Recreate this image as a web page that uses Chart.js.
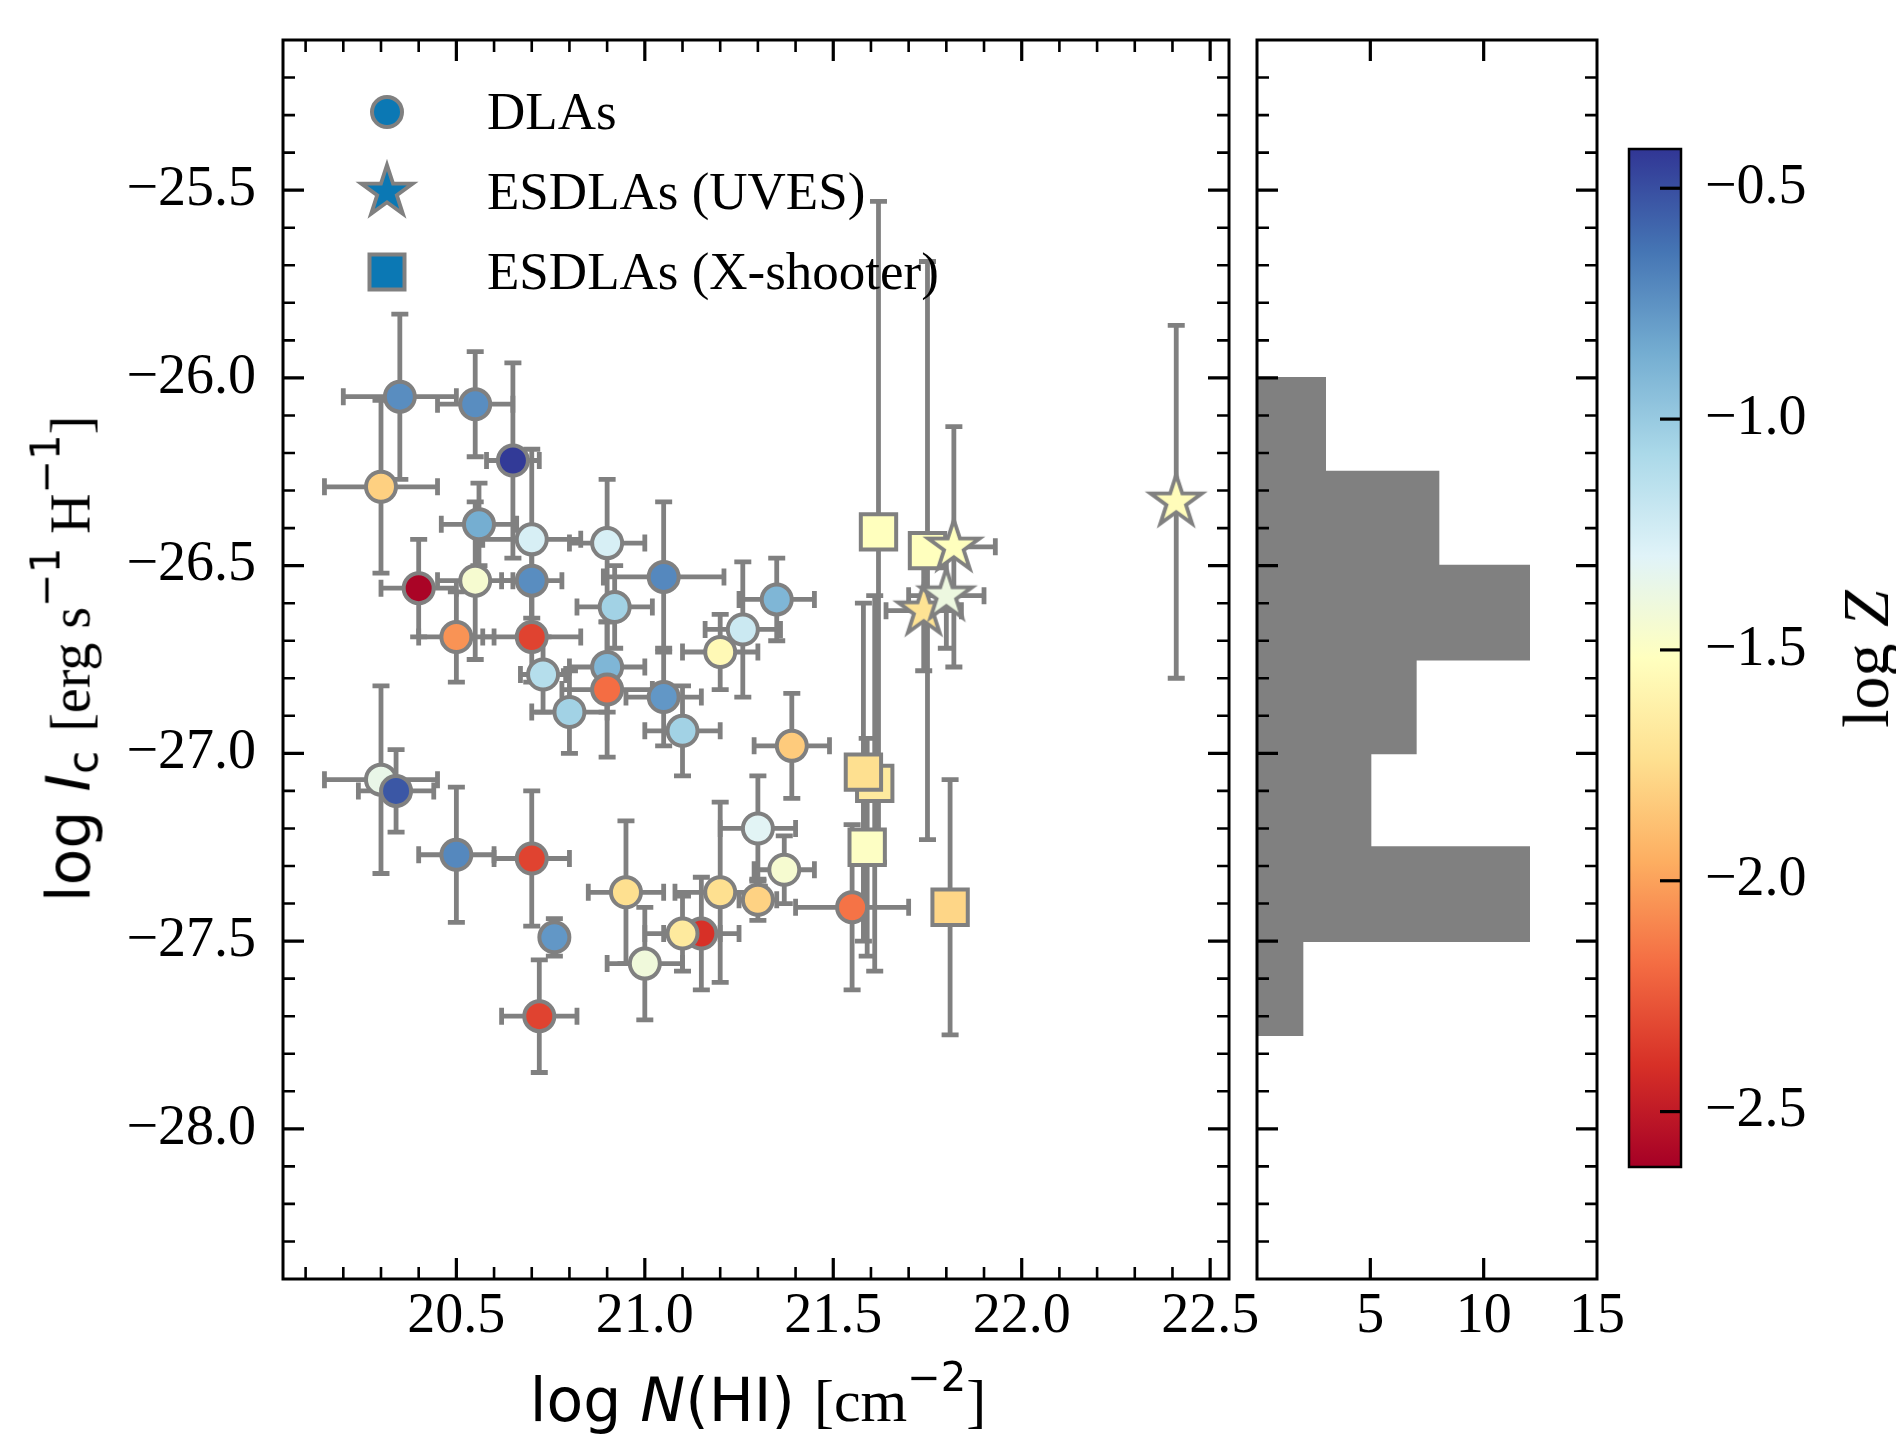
<!DOCTYPE html>
<html>
<head>
<meta charset="utf-8">
<title>log Ic vs log N(HI)</title>
<script src="https://cdn.jsdelivr.net/npm/chart.js@4.4.1/dist/chart.umd.min.js"></script>
<style>
  html, body { margin: 0; padding: 0; background: #fff; }
  #wrap { position: relative; width: 1896px; height: 1440px; background: #fff; overflow: hidden; }
  #wrap canvas { position: absolute; top: 0; }
  .lbl { position: absolute; white-space: nowrap; color: #000; }
  .sans { font-family: 'DejaVu Sans', sans-serif; }
  .serif { font-family: 'Liberation Serif', serif; }
  .rot { transform: translate(-50%, -50%) rotate(-90deg); }
  .sup { font-family: 'DejaVu Sans', sans-serif; font-size: 40px; position: relative; top: -30px; }
  .sub { font-family: 'DejaVu Sans', sans-serif; font-size: 42px; position: relative; top: 8px; }
</style>
</head>
<body>
<div id="wrap">
  <canvas id="main" width="1300" height="1440" style="left:0px"></canvas>
  <canvas id="hist" width="400" height="1440" style="left:1240px"></canvas>
  <canvas id="cbar" width="296" height="1440" style="left:1600px"></canvas>

  <div class="lbl sans" style="left:758px; top:1370px; transform:translateX(-50%); font-size:60px; line-height:60px;">log <i>N</i>(HI) <span class="serif">[cm<span class="sup">−2</span>]</span></div>
  <div class="lbl sans rot" style="left:72px; top:659px; font-size:60px; line-height:60px;">log <i>I</i><span class="sub">c</span> <span class="serif" style="font-size:56px">[erg s<span class="sup">−1</span> H<span class="sup">−1</span>]</span></div>
  <div class="lbl serif rot" style="left:1866px; top:659px; font-size:66px; line-height:66px;">log <i>Z</i></div>
</div>

<script>
// ---------------- data ----------------
// DLAs (circles)
const dlaNHI    = [20.35, 20.55, 20.65, 20.30, 20.56, 20.70, 20.90, 21.05, 20.55, 20.70,
                   20.40, 20.50, 20.70, 20.73, 20.90, 20.92, 20.90, 20.80, 21.05, 21.10,
                   21.26, 21.20, 21.35, 21.39, 20.30, 20.34, 20.50, 20.70, 20.76, 20.72,
                   20.95, 21.00, 21.15, 21.10, 21.20, 21.30, 21.37, 21.30, 21.55];
const dlaNHIErr = [0.15, 0.10, 0.07, 0.15, 0.10, 0.13, 0.10, 0.16, 0.10, 0.08,
                   0.10, 0.10, 0.13, 0.06, 0.10, 0.10, 0.12, 0.10, 0.10, 0.10,
                   0.10, 0.10, 0.10, 0.10, 0.15, 0.10, 0.10, 0.10, 0.03, 0.10,
                   0.10, 0.10, 0.10, 0.10, 0.12, 0.10, 0.08, 0.05, 0.15];
const dlaIc     = [-26.05, -26.07, -26.22, -26.29, -26.39, -26.43, -26.44, -26.53, -26.54, -26.54,
                   -26.56, -26.69, -26.69, -26.79, -26.77, -26.61, -26.83, -26.89, -26.85, -26.94,
                   -26.67, -26.73, -26.59, -26.98, -27.07, -27.10, -27.27, -27.28, -27.49, -27.70,
                   -27.37, -27.56, -27.48, -27.48, -27.37, -27.20, -27.31, -27.39, -27.41];
const dlaIcErr  = [0.22, 0.14, 0.26, 0.23, 0.11, 0.24, 0.17, 0.20, 0.21, 0.10,
                   0.13, 0.12, 0.12, 0.10, 0.12, 0.11, 0.18, 0.11, 0.13, 0.12,
                   0.18, 0.10, 0.11, 0.14, 0.25, 0.11, 0.18, 0.18, 0.05, 0.15,
                   0.19, 0.15, 0.15, 0.10, 0.24, 0.14, 0.09, 0.055, 0.22];
const dlaLogZ   = [-0.73, -0.73, -0.43, -1.81, -0.86, -1.26, -1.26, -0.71, -1.45, -0.73,
                   -2.60, -2.05, -2.33, -1.12, -0.90, -1.04, -2.18, -1.04, -0.77, -1.04,
                   -1.21, -1.56, -0.90, -1.83, -1.36, -0.53, -0.71, -2.33, -0.77, -2.33,
                   -1.74, -1.41, -2.40, -1.67, -1.74, -1.31, -1.45, -1.80, -2.16];

// ESDLAs (UVES) (stars)
const uvesNHI    = [22.41, 21.82, 21.74, 21.80];
const uvesNHIErr = [0.00, 0.11, 0.10, 0.10];
const uvesIc     = [-26.33, -26.45, -26.62, -26.58];
const uvesIcErr  = [0.47, 0.32, 0.16, 0.14];
const uvesLogZ   = [-1.54, -1.52, -1.72, -1.39];

// ESDLAs (X-shooter) (squares)
const xshNHI    = [21.62, 21.75, 21.61, 21.58, 21.59, 21.81];
const xshNHIErr = [0, 0, 0, 0, 0, 0];
const xshIc     = [-26.41, -26.46, -27.08, -27.05, -27.25, -27.41];
const xshIcErr  = [0.88, 0.77, 0.50, 0.45, 0.29, 0.34];
const xshLogZ   = [-1.52, -1.52, -1.67, -1.74, -1.50, -1.78];

// histogram of log Ic (right panel)
const histEdges  = [-26.0, -26.25, -26.5, -26.75, -27.0, -27.25, -27.5, -27.75];
const histCounts = [3, 8, 12, 7, 5, 12, 2];

// colour scale range (log Z)
const zMin = -2.62;
const zMax = -0.415;

const legendLabels = ['DLAs', 'ESDLAs (UVES)', 'ESDLAs (X-shooter)'];

// ---------------- helpers ----------------
const GREY = '#808080';
const LEGEND_BLUE = '#0b78b4';
const SERIF = "'Liberation Serif', serif";
const rdylbu = ['#a50026', '#d73027', '#f46d43', '#fdae61', '#fee090', '#ffffbf',
                '#e0f3f8', '#abd9e9', '#74add1', '#4575b4', '#313695'];

function hexRgb(h) {
  return [parseInt(h.slice(1, 3), 16), parseInt(h.slice(3, 5), 16), parseInt(h.slice(5, 7), 16)];
}
function zColor(z) {
  let t = (z - zMin) / (zMax - zMin);
  t = Math.min(1, Math.max(0, t)) * (rdylbu.length - 1);
  const i = Math.min(Math.floor(t), rdylbu.length - 2);
  const f = t - i;
  const a = hexRgb(rdylbu[i]), b = hexRgb(rdylbu[i + 1]);
  const c = a.map((v, k) => Math.round(v + (b[k] - v) * f));
  return 'rgb(' + c.join(',') + ')';
}
function isStep(v, step) {
  const q = v / step;
  return Math.abs(q - Math.round(q)) < 1e-6;
}
const fmt = (v) => (v < 0 ? '\u2212' : '') + Math.abs(v).toFixed(1);

// filled 5-point star used as point style
function starCanvas(fill) {
  const R = 27, r = R * 0.381966, lw = 3.8;
  const size = Math.ceil(2 * (R + 8));
  const c = document.createElement('canvas');
  c.width = size; c.height = size;
  const g = c.getContext('2d');
  g.translate(size / 2, size / 2);
  g.beginPath();
  for (let i = 0; i < 10; i++) {
    const ang = -Math.PI / 2 + i * Math.PI / 5;
    const rad = i % 2 === 0 ? R : r;
    if (i === 0) g.moveTo(rad * Math.cos(ang), rad * Math.sin(ang));
    else g.lineTo(rad * Math.cos(ang), rad * Math.sin(ang));
  }
  g.closePath();
  g.fillStyle = fill;
  g.fill();
  g.lineJoin = 'miter';
  g.miterLimit = 10;
  g.lineWidth = lw;
  g.strokeStyle = GREY;
  g.stroke();
  return c;
}

function points(xs, xe, ys, ye) {
  return xs.map((x, i) => ({ x: x, y: ys[i], xErr: xe[i], yErr: ye[i] }));
}

// inward ticks on every side + black frame
function frameTicks(spec, frameWidth) {
  return {
    id: 'frameTicks',
    afterDatasetsDraw(chart) {
      const ctx = chart.ctx, a = chart.chartArea;
      ctx.save();
      ctx.strokeStyle = '#000';
      ctx.lineCap = 'butt';
      spec.forEach((s) => {
        const sc = chart.scales[s.axis];
        sc.ticks.forEach((t) => {
          const major = isStep(t.value, s.major);
          if (!major && !s.minor) return;
          const p = sc.getPixelForValue(t.value);
          const lo = s.axis === 'x' ? a.left : a.top;
          const hi = s.axis === 'x' ? a.right : a.bottom;
          if (p < lo + 2 || p > hi - 2) return;
          const len = major ? 21 : 12;
          ctx.lineWidth = major ? 3.2 : 2.6;
          ctx.beginPath();
          s.sides.forEach((side) => {
            if (side === 'bottom') { ctx.moveTo(p, a.bottom); ctx.lineTo(p, a.bottom - len); }
            if (side === 'top') { ctx.moveTo(p, a.top); ctx.lineTo(p, a.top + len); }
            if (side === 'left') { ctx.moveTo(a.left, p); ctx.lineTo(a.left + len, p); }
            if (side === 'right') { ctx.moveTo(a.right, p); ctx.lineTo(a.right - len, p); }
          });
          ctx.stroke();
        });
      });
      ctx.lineWidth = frameWidth;
      ctx.strokeRect(a.left, a.top, a.right - a.left, a.bottom - a.top);
      ctx.restore();
    }
  };
}

// error bars, drawn through the chart's own scales
const errorBars = {
  id: 'errorBars',
  beforeDatasetsDraw(chart) {
    const ctx = chart.ctx, a = chart.chartArea;
    const xs = chart.scales.x, ys = chart.scales.y;
    const cap = 8.5;
    ctx.save();
    ctx.beginPath();
    ctx.rect(a.left, a.top, a.right - a.left, a.bottom - a.top);
    ctx.clip();
    ctx.strokeStyle = GREY;
    ctx.lineWidth = 4.8;
    ctx.lineCap = 'butt';
    chart.data.datasets.forEach((ds) => {
      ds.data.forEach((p) => {
        const px = xs.getPixelForValue(p.x), py = ys.getPixelForValue(p.y);
        ctx.beginPath();
        if (p.xErr > 0) {
          const x0 = xs.getPixelForValue(p.x - p.xErr), x1 = xs.getPixelForValue(p.x + p.xErr);
          ctx.moveTo(x0, py); ctx.lineTo(x1, py);
          ctx.moveTo(x0, py - cap); ctx.lineTo(x0, py + cap);
          ctx.moveTo(x1, py - cap); ctx.lineTo(x1, py + cap);
        }
        if (p.yErr > 0) {
          const y0 = ys.getPixelForValue(p.y - p.yErr), y1 = ys.getPixelForValue(p.y + p.yErr);
          ctx.moveTo(px, y0); ctx.lineTo(px, y1);
          ctx.moveTo(px - cap, y0); ctx.lineTo(px + cap, y0);
          ctx.moveTo(px - cap, y1); ctx.lineTo(px + cap, y1);
        }
        ctx.stroke();
      });
    });
    ctx.restore();
  }
};

// legend in the upper left corner of the main panel
const legendStar = starCanvas(LEGEND_BLUE);
const legendBox = {
  id: 'legendBox',
  afterDraw(chart) {
    const ctx = chart.ctx, a = chart.chartArea;
    const mx = a.left + 104, tx = a.left + 204;
    ctx.save();
    ctx.font = '53px ' + SERIF;
    ctx.textBaseline = 'alphabetic';
    legendLabels.forEach((lab, i) => {
      const my = a.top + 72 + i * 80;
      ctx.fillStyle = LEGEND_BLUE;
      ctx.strokeStyle = GREY;
      ctx.lineWidth = 4;
      if (i === 0) {
        ctx.beginPath();
        ctx.arc(mx, my, 15, 0, Math.PI * 2);
        ctx.fill(); ctx.stroke();
      } else if (i === 1) {
        ctx.drawImage(legendStar, mx - legendStar.width / 2, my - legendStar.height / 2);
      } else {
        ctx.beginPath();
        ctx.rect(mx - 17.5, my - 17.5, 35, 35);
        ctx.fill(); ctx.stroke();
      }
      ctx.fillStyle = '#000';
      ctx.fillText(lab, tx, my + 17);
    });
    ctx.restore();
  }
};

Chart.defaults.color = '#000';
Chart.defaults.font.family = SERIF;

const xTickFont = { family: SERIF, size: 56, lineHeight: 1.0 };
const yTickFont = { family: SERIF, size: 56, lineHeight: 0.5 };

// ---------------- main scatter panel ----------------
new Chart(document.getElementById('main'), {
  type: 'scatter',
  data: {
    datasets: [
      {
        label: legendLabels[0],
        data: points(dlaNHI, dlaNHIErr, dlaIc, dlaIcErr),
        pointStyle: 'circle',
        pointRadius: 15,
        pointBorderWidth: 4,
        pointBorderColor: GREY,
        pointBackgroundColor: dlaLogZ.map(zColor),
        order: 3
      },
      {
        label: legendLabels[1],
        data: points(uvesNHI, uvesNHIErr, uvesIc, uvesIcErr),
        pointStyle: uvesLogZ.map((z) => starCanvas(zColor(z))),
        pointRadius: 20,
        order: 1
      },
      {
        label: legendLabels[2],
        data: points(xshNHI, xshNHIErr, xshIc, xshIcErr),
        pointStyle: 'rect',
        pointRadius: 25,
        pointBorderWidth: 4,
        pointBorderColor: GREY,
        pointBackgroundColor: xshLogZ.map(zColor),
        order: 2
      }
    ]
  },
  options: {
    responsive: false,
    animation: false,
    events: [],
    layout: { padding: { top: 40, right: 71, left: 0, bottom: 0 } },
    plugins: { legend: { display: false }, tooltip: { enabled: false } },
    scales: {
      x: {
        type: 'linear', min: 20.04, max: 22.55,
        afterFit: (s) => { s.height = 161; },
        grid: { display: false }, border: { display: false },
        ticks: {
          stepSize: 0.1, autoSkip: false, includeBounds: false, maxRotation: 0,
          padding: 2, color: '#000', font: xTickFont,
          callback: (v) => (isStep(v, 0.5) ? v.toFixed(1) : '')
        }
      },
      y: {
        type: 'linear', min: -28.4, max: -25.1,
        afterFit: (s) => { s.width = 283; },
        grid: { display: false }, border: { display: false },
        ticks: {
          stepSize: 0.1, autoSkip: false, includeBounds: false,
          padding: 19, color: '#000', font: yTickFont,
          callback: (v) => (isStep(v, 0.5) ? fmt(v) : '')
        }
      }
    }
  },
  plugins: [
    errorBars,
    frameTicks([
      { axis: 'x', sides: ['bottom', 'top'], major: 0.5, minor: true },
      { axis: 'y', sides: ['left', 'right'], major: 0.5, minor: true }
    ], 3),
    legendBox
  ]
});

// ---------------- histogram panel ----------------
const hist = new Chart(document.getElementById('hist'), {
  type: 'bar',
  data: {
    datasets: [{
      data: histCounts.map((c, i) => ({ x: c, y: (histEdges[i] + histEdges[i + 1]) / 2 })),
      backgroundColor: GREY,
      borderWidth: 0,
      inflateAmount: 1,
      barPercentage: 1,
      categoryPercentage: 1,
      barThickness: 90
    }]
  },
  options: {
    indexAxis: 'y',
    responsive: false,
    animation: false,
    events: [],
    layout: { padding: { top: 40, right: 43, left: 0, bottom: 0 } },
    plugins: { legend: { display: false }, tooltip: { enabled: false } },
    scales: {
      x: {
        type: 'linear', min: 0, max: 15,
        afterFit: (s) => { s.height = 161; },
        grid: { display: false }, border: { display: false },
        ticks: {
          stepSize: 5, autoSkip: false, maxRotation: 0, padding: 2,
          color: '#000', font: xTickFont,
          callback: (v) => (v === 0 ? '' : String(v))
        }
      },
      y: {
        type: 'linear', min: -28.4, max: -25.1, offset: false,
        afterFit: (s) => { s.width = 17; },
        grid: { display: false }, border: { display: false },
        ticks: { stepSize: 0.1, autoSkip: false, includeBounds: false, padding: 0,
                 font: yTickFont, callback: () => '' }
      }
    }
  },
  plugins: [
    frameTicks([
      { axis: 'x', sides: ['bottom', 'top'], major: 5, minor: false },
      { axis: 'y', sides: ['left', 'right'], major: 0.5, minor: true }
    ], 3)
  ]
});
// one bin wide bars, sized by the y scale
const hy = hist.scales.y;
hist.data.datasets[0].barThickness =
  Math.abs(hy.getPixelForValue(histEdges[0]) - hy.getPixelForValue(histEdges[1]));
hist.update('none');

// ---------------- colour bar ----------------
new Chart(document.getElementById('cbar'), {
  type: 'bar',
  data: {
    labels: ['log Z'],
    datasets: [{
      data: [[zMin, zMax]],
      borderWidth: 0,
      barPercentage: 1,
      categoryPercentage: 1,
      backgroundColor: (c) => {
        const ch = c.chart;
        if (!ch.chartArea) return GREY;
        const ys = ch.scales.y;
        const g = ch.ctx.createLinearGradient(0, ys.getPixelForValue(zMin), 0, ys.getPixelForValue(zMax));
        rdylbu.forEach((col, i) => g.addColorStop(i / (rdylbu.length - 1), col));
        return g;
      }
    }]
  },
  options: {
    responsive: false,
    animation: false,
    events: [],
    layout: { padding: { top: 149, right: 0, left: 29, bottom: 273 } },
    plugins: { legend: { display: false }, tooltip: { enabled: false } },
    scales: {
      x: { display: false },
      y: {
        type: 'linear', position: 'right', min: zMin, max: zMax, beginAtZero: false,
        afterFit: (s) => { s.width = 215; },
        grid: { display: false }, border: { display: false },
        ticks: {
          stepSize: 0.5, includeBounds: false, padding: 16,
          color: '#000', font: yTickFont,
          callback: (v) => fmt(v)
        }
      }
    }
  },
  plugins: [
    frameTicks([{ axis: 'y', sides: ['right'], major: 0.5, minor: false }], 2.5)
  ]
});
</script>
</body>
</html>
